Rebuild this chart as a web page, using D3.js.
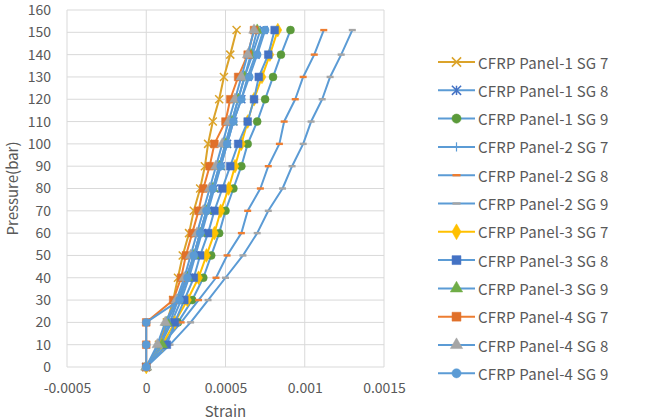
<!DOCTYPE html>
<html><head><meta charset="utf-8">
<script src="https://cdn.jsdelivr.net/npm/d3@7"></script>
<style>
html,body{margin:0;padding:0;background:#fff;}
svg{display:block;font-family:"Noto Sans CJK KR","Noto Sans",sans-serif;}
</style></head>
<body>
<svg id="chart" width="645" height="420"></svg>
<script>
// ---- data ----
const pressures = [0,10,20,30,40,50,60,70,80,90,100,110,120,130,140,151];
const seriesNames = [
  "CFRP Panel-1 SG 7","CFRP Panel-1 SG 8","CFRP Panel-1 SG 9",
  "CFRP Panel-2 SG 7","CFRP Panel-2 SG 8","CFRP Panel-2 SG 9",
  "CFRP Panel-3 SG 7","CFRP Panel-3 SG 8","CFRP Panel-3 SG 9",
  "CFRP Panel-4 SG 7","CFRP Panel-4 SG 8","CFRP Panel-4 SG 9"
];
const p1sg7 = [0,0.00008,0.00013,0.00017,0.0002,0.00023,0.00027,0.0003,0.00034,0.00037,0.00039,0.00042,0.00046,0.00049,0.00053,0.00057];
const p1sg8 = [0,0.00009,0.00016,0.00022,0.00027,0.00031,0.00035,0.00039,0.00043,0.00047,0.00051,0.00055,0.0006,0.00064,0.00069,0.00074];
const p1sg9 = [0,0.00011,0.0002,0.00029,0.00036,0.00041,0.00046,0.0005,0.00055,0.0006,0.00064,0.0007,0.00075,0.0008,0.00085,0.00091];
const p2sg7 = [0,0.00008,0.00015,0.0002,0.00025,0.0003,0.00034,0.00038,0.00042,0.00046,0.0005,0.00054,0.00058,0.00062,0.00067,0.00072];
const p2sg8 = [0,0.0001,0.00022,0.00033,0.00044,0.00051,0.0006,0.00064,0.00072,0.00077,0.00084,0.00087,0.00094,0.00099,0.00106,0.00112];
const p2sg9 = [0,0.00015,0.00028,0.00039,0.0005,0.00061,0.0007,0.00077,0.00086,0.00092,0.00099,0.00104,0.00111,0.00116,0.00123,0.0013];
const p3sg7 = [0,0.0001,0.00018,0.00026,0.00033,0.00038,0.00043,0.00047,0.00052,0.00056,0.0006,0.00064,0.00068,0.00073,0.00078,0.00083];
const p3sg8 = [0,0.00013,0.00018,0.00024,0.0003,0.00034,0.00039,0.00043,0.00048,0.00053,0.00058,0.00064,0.00068,0.00071,0.00077,0.00081];
const p3sg9 = [0,0.0001,0.00013,0.0002,0.00026,0.0003,0.00034,0.00038,0.00042,0.00046,0.0005,0.00054,0.00058,0.00062,0.00066,0.0007];
const p4sg7 = [0,0,0,0.00017,0.00022,0.00025,0.00029,0.00033,0.00036,0.0004,0.00043,0.0005,0.00053,0.00058,0.00064,0.00068];
const p4sg8 = [0,0.00007,0.00012,0.00019,0.00024,0.00028,0.00032,0.00036,0.0004,0.00044,0.00048,0.00052,0.00056,0.0006,0.00064,0.00068];
const p4sg9 = [0,0,0,0.00021,0.00026,0.0003,0.00034,0.00038,0.00042,0.00047,0.00051,0.00055,0.0006,0.00065,0.0007,0.00075];
const strainSeries = [p1sg7,p1sg8,p1sg9,p2sg7,p2sg8,p2sg9,p3sg7,p3sg8,p3sg9,p4sg7,p4sg8,p4sg9];
const xTicks = [-0.0005,0,0.0005,0.001,0.0015];
const xTickLabels = ["-0.0005","0","0.0005","0.001","0.0015"];
const yTicks = [0,10,20,30,40,50,60,70,80,90,100,110,120,130,140,150,160];

// ---- styles ----
const lineColors = ["#DBA32A","#5B9BD5","#5B9BD5","#5B9BD5","#5B9BD5","#5B9BD5","#FFC000","#5B9BD5","#5B9BD5","#ED7D31","#5B9BD5","#5B9BD5"];
const markerColors = ["#DBA32A","#4472C4","#5B9A3A","#5B9BD5","#ED7D31","#A5A5A5","#FFC000","#4472C4","#70AD47","#E0702A","#A5A5A5","#5B9BD5"];
const markerShapes = ["x","star","circle","plus","dash","dash","diamond","square","triangle","square","triangle","circle"];

const svg = d3.select("#chart");
const plot = {left:67, right:384, top:10, bottom:367};
const x = d3.scaleLinear().domain([-0.0005,0.0015]).range([plot.left,plot.right]);
const y = d3.scaleLinear().domain([0,160]).range([plot.bottom,plot.top]);

// gridlines
const grid = svg.append("g");
grid.selectAll("line.h").data(yTicks).join("line")
  .attr("x1",plot.left).attr("x2",plot.right)
  .attr("y1",d=>y(d)).attr("y2",d=>y(d))
  .attr("stroke","#D9D9D9").attr("stroke-width",1);
grid.selectAll("line.v").data(xTicks).join("line")
  .attr("y1",plot.top).attr("y2",plot.bottom)
  .attr("x1",d=>x(d)).attr("x2",d=>x(d))
  .attr("stroke","#D9D9D9").attr("stroke-width",1);

// axes (labels only)
const yAxis = d3.axisLeft(y).tickValues(yTicks).tickSize(0).tickPadding(16);
const gy = svg.append("g").attr("transform",`translate(${plot.left},0)`).call(yAxis);
gy.select(".domain").remove();
gy.selectAll("text").attr("fill","#595959").attr("font-size","14px")
  .attr("font-family","'Noto Sans CJK KR','Noto Sans',sans-serif");

const xAxis = d3.axisBottom(x).tickValues(xTicks).tickSize(0).tickPadding(16)
  .tickFormat((d,i)=>xTickLabels[i]);
const gx = svg.append("g").attr("transform",`translate(0,${plot.bottom})`).call(xAxis);
gx.select(".domain").remove();
gx.selectAll("text").attr("fill","#595959").attr("font-size","14px")
  .attr("font-family","'Noto Sans CJK KR','Noto Sans',sans-serif");

// axis titles
svg.append("text").attr("transform",`translate(14,${(plot.top+plot.bottom)/2}) rotate(-90)`)
  .attr("text-anchor","middle").attr("dominant-baseline","middle")
  .attr("fill","#595959").attr("font-size","15px").text("Pressure(bar)");
svg.append("text").attr("x",(plot.left+plot.right)/2).attr("y",417)
  .attr("text-anchor","middle")
  .attr("fill","#595959").attr("font-size","15px").text("Strain");

// marker drawing
function drawMarker(g, shape, color, scale){
  const s = 4*scale;
  if(shape==="x"){
    g.append("path").attr("d",`M${-s},${-s}L${s},${s}M${-s},${s}L${s},${-s}`)
      .attr("stroke",color).attr("stroke-width",1.5).attr("fill","none");
  } else if(shape==="star"){
    g.append("path").attr("d",`M${-s},${-s}L${s},${s}M${-s},${s}L${s},${-s}M0,${-s}L0,${s}`)
      .attr("stroke",color).attr("stroke-width",1.5).attr("fill","none");
  } else if(shape==="plus"){
    g.append("path").attr("d",`M0,${-s}L0,${s}`)
      .attr("stroke",color).attr("stroke-width",1.2).attr("fill","none");
  } else if(shape==="dash"){
    g.append("rect").attr("x",-3.5*scale).attr("y",-1.2).attr("width",7*scale).attr("height",2.4).attr("fill",color);
  } else {
    const typ = {circle:d3.symbolCircle,square:d3.symbolSquare,triangle:d3.symbolTriangle,diamond:d3.symbolDiamond}[shape];
    const size = {circle:50,square:60,triangle:50,diamond:55}[shape]*scale*scale;
    g.append("path").attr("d",d3.symbol().type(typ).size(size)()).attr("fill",color)
      .attr("stroke",color).attr("stroke-width",0.5);
  }
}

const line = d3.line().x(d=>x(d[0])).y(d=>y(d[1]));
strainSeries.forEach((vals,i)=>{
  const pts = vals.map((v,j)=>[v,pressures[j]]);
  const g = svg.append("g");
  g.append("path").datum(pts).attr("d",line).attr("fill","none")
    .attr("stroke",lineColors[i]).attr("stroke-width",2).attr("stroke-linejoin","round");
  pts.forEach(p=>{
    const mg = g.append("g").attr("transform",`translate(${x(p[0])},${y(p[1])})`);
    drawMarker(mg, markerShapes[i], markerColors[i], 1);
  });
});

// legend
const leg = svg.append("g");
seriesNames.forEach((name,i)=>{
  const yy = 62 + i*28.3;
  const g = leg.append("g").attr("transform",`translate(0,${yy})`);
  g.append("line").attr("x1",438).attr("x2",475).attr("y1",0).attr("y2",0)
    .attr("stroke",lineColors[i]).attr("stroke-width",2);
  const mg = g.append("g").attr("transform","translate(456.5,0)");
  drawMarker(mg, markerShapes[i], markerColors[i], 1.15);
  g.append("text").attr("x",478).attr("y",0).attr("dominant-baseline","central")
    .attr("fill","#595959").attr("font-size","15px").attr("letter-spacing","0.2px").text(name);
});
</script>
</body></html>
